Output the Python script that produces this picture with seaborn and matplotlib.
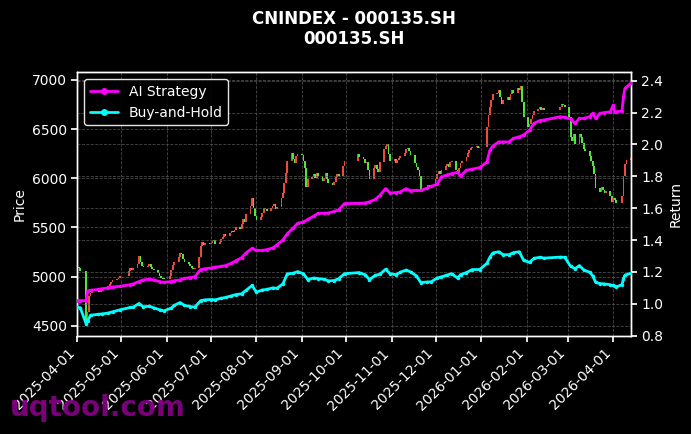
import numpy as np
import pandas as pd
import matplotlib
matplotlib.use("Agg")
import matplotlib.pyplot as plt
import matplotlib.dates as mdates
from matplotlib.lines import Line2D
import seaborn as sns

# ---------------- data ----------------
title_text = "CNINDEX - 000135.SH\n000135.SH"
series_names = ["AI Strategy", "Buy-and-Hold"]
start_date = "2025-04-01"
end_date = "2026-04-13"
holidays = ["2025-04-04", "2025-05-01", "2025-05-02", "2025-05-05", "2025-06-02",
            "2025-10-01", "2025-10-02", "2025-10-03", "2025-10-06", "2025-10-07", "2025-10-08",
            "2026-01-01", "2026-01-02",
            "2026-02-16", "2026-02-17", "2026-02-18", "2026-02-19", "2026-02-20", "2026-02-23",
            "2026-04-06"]

first_open = 5070
closes = [
    5095, 5085, 5060,                 # Apr 1-3
    4560, 4640, 4800, 4830, 4850,     # Apr 7-11
    4865, 4850, 4845, 4865, 4875,
    4890, 4905, 4925, 4940, 4960,
    4975, 4990, 5005,                 # Apr 28-30
    5060, 5085, 5070, 5090,           # May 6-9
    5130, 5210, 5150, 5110, 5100,
    5110, 5125, 5100, 5080, 5065,
    5040, 5010, 4990, 4975, 4970,
    5010, 5065, 5120, 5150,           # Jun 3-6
    5200, 5240, 5225, 5180, 5150,
    5130, 5110, 5090, 5080, 5090,
    5200, 5310, 5350, 5320, 5340,
    5330, 5345, 5360, 5370, 5330,
    5350, 5385, 5400, 5430, 5415,
    5440, 5465, 5450, 5475, 5500,
    5480, 5530, 5590, 5550, 5640,
    5720, 5800, 5700, 5620, 5580,
    5610, 5650, 5700, 5690, 5670,
    5700, 5720, 5740, 5690, 5710,
    5800, 5850, 5950, 6050, 6180,
    6260, 6200, 6150, 6230, 6250,
    6240, 6180, 6100, 5910, 5990,
    6010, 6040, 6000, 6050, 6020,
    5970, 6000, 6050, 5990, 5950,
    5930, 5960, 6010, 6040, 6020,
    6120, 6180,                       # Sep 29-30
    6250, 6220,                       # Oct 9-10
    6200, 6150, 6170, 6080, 5990,
    6100, 6130, 6090, 6060, 6160,
    6300, 6330, 6350, 6250, 6180,
    6200, 6150, 6190, 6210, 6230,
    6260, 6300, 6310, 6280, 6240,
    6150, 6110, 6080, 6020, 5890,
    5880, 5910, 5930, 5900, 5920,
    5990, 6040, 6070, 6040, 6080,
    6120, 6140, 6110, 6160, 6180,
    6080, 6040, 6100, 6150, 6180,
    6220, 6260, 6290, 6310, 6320,
    6330, 6310, 6320,                 # Dec 29-31
    6520, 6640, 6720, 6800, 6860,
    6870, 6900, 6830, 6760, 6800,
    6830, 6800, 6860, 6900, 6870,
    6920, 6900, 6940, 6780, 6620,
    6520, 6550, 6600, 6640, 6680,
    6700, 6720, 6690, 6710, 6690,
    6720, 6760, 6740, 6720,           # Feb 24-27
    6620, 6420, 6380, 6450, 6350,
    6450, 6420, 6360, 6300, 6280,
    6230, 6180, 6120, 6040, 5900,
    5860, 5910, 5880, 5850, 5870,
    5820, 5760, 5800, 5780, 5750,
    5820, 6020, 6140, 6190,           # Apr 7-10
    6210,                             # Apr 13
]

line_dates = [
    "2025-04-01", "2025-04-03", "2025-04-07", "2025-04-08", "2025-04-10", "2025-04-15",
    "2025-04-18", "2025-04-22", "2025-04-25", "2025-04-30", "2025-05-07", "2025-05-09",
    "2025-05-13", "2025-05-16", "2025-05-20", "2025-05-23", "2025-05-27", "2025-05-30",
    "2025-06-04", "2025-06-06", "2025-06-10", "2025-06-13", "2025-06-17", "2025-06-20",
    "2025-06-24", "2025-06-27", "2025-07-01", "2025-07-04", "2025-07-08", "2025-07-11",
    "2025-07-15", "2025-07-18", "2025-07-22", "2025-07-25", "2025-07-29", "2025-08-01",
    "2025-08-05", "2025-08-08", "2025-08-12", "2025-08-15", "2025-08-19", "2025-08-22",
    "2025-08-26", "2025-08-29", "2025-09-02", "2025-09-05", "2025-09-09", "2025-09-12",
    "2025-09-16", "2025-09-19", "2025-09-23", "2025-09-26", "2025-09-30", "2025-10-10",
    "2025-10-14", "2025-10-17", "2025-10-21", "2025-10-24", "2025-10-28", "2025-10-31",
    "2025-11-04", "2025-11-07", "2025-11-11", "2025-11-14", "2025-11-18", "2025-11-21",
    "2025-11-25", "2025-11-28", "2025-12-02", "2025-12-05", "2025-12-09", "2025-12-12",
    "2025-12-16", "2025-12-18", "2025-12-22", "2025-12-26", "2025-12-31", "2026-01-05",
    "2026-01-07", "2026-01-09", "2026-01-13", "2026-01-16", "2026-01-20", "2026-01-23",
    "2026-01-27", "2026-01-30", "2026-02-03", "2026-02-06", "2026-02-10", "2026-02-13",
    "2026-02-24", "2026-02-27", "2026-03-03", "2026-03-06", "2026-03-09", "2026-03-12",
    "2026-03-16", "2026-03-18", "2026-03-20", "2026-03-23", "2026-03-26", "2026-03-30",
    "2026-04-01", "2026-04-02", "2026-04-03", "2026-04-07", "2026-04-08", "2026-04-09",
    "2026-04-13",
]
ai_strategy = [
    1.020, 1.020, 1.020, 1.080, 1.085, 1.090,
    1.095, 1.100, 1.105, 1.110, 1.120, 1.125,
    1.140, 1.150, 1.155, 1.150, 1.140, 1.135,
    1.140, 1.145, 1.150, 1.160, 1.165, 1.170,
    1.215, 1.220, 1.225, 1.230, 1.235, 1.240,
    1.255, 1.270, 1.290, 1.320, 1.348, 1.335,
    1.335, 1.340, 1.350, 1.370, 1.400, 1.440,
    1.475, 1.505, 1.513, 1.530, 1.550, 1.568,
    1.568, 1.570, 1.580, 1.590, 1.629, 1.630,
    1.633, 1.640, 1.655, 1.680, 1.723, 1.696,
    1.698, 1.702, 1.723, 1.710, 1.712, 1.712,
    1.725, 1.737, 1.750, 1.796, 1.810, 1.817,
    1.826, 1.800, 1.838, 1.845, 1.855, 1.890,
    1.964, 1.990, 2.016, 2.016, 2.016, 2.038,
    2.048, 2.060, 2.090, 2.132, 2.150, 2.153,
    2.174, 2.170, 2.160, 2.132, 2.163, 2.163,
    2.174, 2.195, 2.163, 2.195, 2.200, 2.205,
    2.247, 2.205, 2.205, 2.210, 2.300, 2.352,
    2.384,
]
buy_and_hold = [
    0.980, 0.975, 0.875, 0.893, 0.928, 0.934,
    0.937, 0.942, 0.950, 0.962, 0.977, 0.979,
    1.002, 0.981, 0.985, 0.975, 0.963, 0.956,
    0.973, 0.990, 1.008, 0.990, 0.983, 0.979,
    1.020, 1.025, 1.027, 1.025, 1.035, 1.040,
    1.050, 1.058, 1.063, 1.085, 1.115, 1.073,
    1.087, 1.090, 1.100, 1.098, 1.125, 1.188,
    1.192, 1.202, 1.189, 1.152, 1.162, 1.158,
    1.154, 1.144, 1.146, 1.158, 1.189, 1.196,
    1.183, 1.152, 1.179, 1.185, 1.217, 1.189,
    1.183, 1.198, 1.212, 1.200, 1.175, 1.133,
    1.137, 1.138, 1.162, 1.169, 1.181, 1.189,
    1.162, 1.183, 1.196, 1.215, 1.215, 1.254,
    1.292, 1.319, 1.327, 1.308, 1.308, 1.321,
    1.327, 1.273, 1.260, 1.285, 1.292, 1.287,
    1.293, 1.292, 1.235, 1.221, 1.240, 1.212,
    1.198, 1.177, 1.135, 1.127, 1.125, 1.120,
    1.115, 1.112, 1.106, 1.120, 1.157, 1.180,
    1.192,
]

# ---------------- styling ----------------
sns.set_theme(style="dark", rc={
    "figure.facecolor": "black", "axes.facecolor": "black",
    "axes.edgecolor": "white", "text.color": "white",
    "axes.labelcolor": "white", "xtick.color": "white", "ytick.color": "white",
    "xtick.bottom": True, "ytick.left": True,
    "font.size": 10, "axes.labelsize": 10, "xtick.labelsize": 10,
    "ytick.labelsize": 10, "legend.fontsize": 10,
})
plt.rcParams["font.family"] = ["DejaVu Sans"]

up_color = "#ee4a3e"
down_color = "#4ee83a"
line_colors = {"AI Strategy": "#ff00ff", "Buy-and-Hold": "#00ffff"}
grid_kw = dict(color="#5a5a5a", linestyle="--", linewidth=0.6, alpha=0.8)

fig = plt.figure(figsize=(6.91, 4.34), dpi=100)
ax = fig.add_axes([0.1119, 0.2265, 0.801, 0.607])
ax2 = ax.twinx()

# candles
dates = pd.bdate_range(start_date, end_date)
dates = dates[~dates.isin(pd.to_datetime(holidays))]
n = min(len(dates), len(closes))
c = np.array(closes[:n], dtype=float)
o = np.array([first_open] + closes[:n - 1], dtype=float)
body_h = np.maximum(np.abs(c - o), 10.0)
body_b = np.minimum(o, c)
colors = np.where(c >= o, up_color, down_color)
ax.bar(dates[:n], body_h, bottom=body_b, width=1.2, color=colors, linewidth=0, zorder=2)

# strategy lines
df = pd.DataFrame({"Date": pd.to_datetime(line_dates),
                   "AI Strategy": ai_strategy, "Buy-and-Hold": buy_and_hold})
long = df.melt(id_vars="Date", var_name="Series", value_name="Return")
sns.lineplot(data=long, x="Date", y="Return", hue="Series", palette=line_colors,
             ax=ax2, linewidth=2, marker="o", markersize=2.5, markeredgewidth=0,
             legend=False, zorder=3)

# axes limits & ticks
ax.set_xlim(pd.Timestamp(start_date), pd.Timestamp(end_date))
ax.set_ylim(4398, 7078)
ax2.set_ylim(0.8, 2.453)
ax.set_yticks([4500, 5000, 5500, 6000, 6500, 7000])
ax2.set_yticks([0.8, 1.0, 1.2, 1.4, 1.6, 1.8, 2.0, 2.2, 2.4])
ax.xaxis.set_major_locator(mdates.MonthLocator())
ax.xaxis.set_major_formatter(mdates.DateFormatter("%Y-%m-%d"))
ax.tick_params(axis="x", labelrotation=45, colors="white", length=4, bottom=True)
ax.tick_params(axis="y", colors="white", length=4, left=True)
ax2.tick_params(axis="y", colors="white", length=4, right=True)
for t in ax.get_xticklabels():
    t.set_ha("right")

ax.grid(True, **grid_kw)
ax2.grid(True, axis="y", **grid_kw)
ax.set_axisbelow(True)
for a in (ax, ax2):
    for s in a.spines.values():
        s.set_color("white")
        s.set_linewidth(1.0)

ax.set_xlabel("")
ax2.set_xlabel("")
ax.set_ylabel("Price", color="white")
ax2.set_ylabel("Return", color="white")
ax.set_title(title_text, color="white", fontsize=12, fontweight="bold", pad=20)

handles = [Line2D([0], [0], color=line_colors[s], lw=2, marker="o", markersize=4)
           for s in series_names]
leg = ax2.legend(handles, series_names, loc="upper left", facecolor="black",
                 edgecolor="white", labelcolor="white", framealpha=0.9, fontsize=10)

fig.text(0.015, 0.059, "uqtool.com", color="#800080", fontsize=20,
         fontweight="bold", va="center", ha="left", alpha=0.95)

fig.savefig("out.png", dpi=100, facecolor="black")
